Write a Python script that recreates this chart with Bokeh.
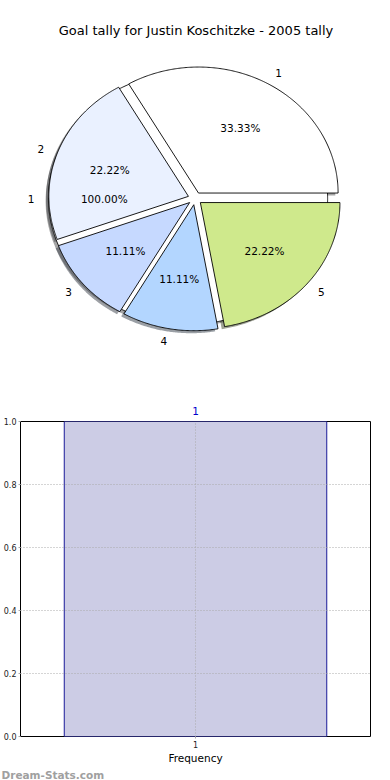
import numpy as np
from bokeh.plotting import figure
from bokeh.models import Range1d, ColumnDataSource, Label, FixedTicker, LinearAxis, Title
from bokeh.layouts import column
from bokeh.embed import file_html
from bokeh.resources import INLINE
from bokeh.core.properties import value

# ---------------- data ----------------
title_text = "Goal tally for Justin Koschitzke - 2005 tally"
slice_labels = ["1", "2", "3", "4", "5"]
slice_values = [3, 2, 1, 1, 2]
slice_colors = ["#ffffff", "#eaf1ff", "#c6d9ff", "#b3d6ff", "#cfe98c"]
total_labels = ["1"]
total_values = [1]
total_colors = ["#ffffff"]

bar_categories = ["1"]
bar_values = [1]
y_ticks = [0.0, 0.2, 0.4, 0.6, 0.8, 1.0]
watermark = "Dream-Stats.com"

FONT = "DejaVu Sans"
EXPLODE = 0.05
W = 374
BL, BR = 19, 4               # left/right borders shared by both figures
H1 = 384
RX, RY = 140.0, 126.0        # pixels per pie unit
CX, CY = 194.0, 198.0        # pie centre (canvas pixels)

pie = figure(width=W, height=H1, output_backend="svg", toolbar_location=None,
             x_range=Range1d(-(CX - BL) / RX, (W - BR - CX) / RX),
             y_range=Range1d(-(H1 - CY) / RY, CY / RY),
             min_border_left=BL, min_border_right=BR, min_border_top=0,
             min_border_bottom=0, outline_line_color=None)
pie.axis.visible = False
pie.grid.visible = False


def pie_geometry(values, labels, colors):
    vals = np.asarray(values, float)
    fr = vals / vals.sum()
    out = dict(xs=[], ys=[], sxs=[], sys=[], color=[], shadow=[],
               lx=[], ly=[], align=[], px=[], py=[], pct=[], label=[])
    t1 = 0.0
    for f, lab, col in zip(fr, labels, colors):
        t2 = t1 + 360.0 * f
        tm = np.radians((t1 + t2) / 2)
        cx, cy = EXPLODE * np.cos(tm), EXPLODE * np.sin(tm)
        th = np.radians(np.linspace(t1, t2, int(abs(t2 - t1)) * 2 + 2))
        if f >= 0.999:
            xs = list(cx + np.cos(th)); ys = list(cy + np.sin(th))
        else:
            xs = [cx] + list(cx + np.cos(th)) + [cx]
            ys = [cy] + list(cy + np.sin(th)) + [cy]
        out["xs"].append(xs); out["ys"].append(ys)
        out["sxs"].append([x - 0.02 for x in xs]); out["sys"].append([y - 0.02 for y in ys])
        out["color"].append(col)
        r, g, b = int(col[1:3], 16), int(col[3:5], 16), int(col[5:7], 16)
        out["shadow"].append("#%02x%02x%02x" % (int(r * 0.3), int(g * 0.3), int(b * 0.3)))
        lxv = cx + 1.1 * np.cos(tm)
        out["lx"].append(lxv); out["ly"].append(cy + 1.1 * np.sin(tm))
        out["align"].append("left" if lxv > 0 else "right")
        out["px"].append(cx + 0.6 * np.cos(tm)); out["py"].append(cy + 0.6 * np.sin(tm))
        out["pct"].append("%.2f%%" % (100 * f))
        out["label"].append(lab)
        t1 = t2
    return out


g_total = pie_geometry(total_values, total_labels, total_colors)
g_main = pie_geometry(slice_values, slice_labels, slice_colors)

for g in (g_total, g_main):
    pie.patches(xs=g["sxs"], ys=g["sys"], fill_color=g["shadow"], fill_alpha=0.5,
                line_color=None)
for g in (g_total, g_main):
    pie.patches(xs=g["xs"], ys=g["ys"], fill_color=g["color"], line_color="black",
                line_width=0.9)
for g in (g_total, g_main):
    src = ColumnDataSource(dict(lx=g["lx"], ly=g["ly"], align=g["align"], label=g["label"],
                                px=g["px"], py=g["py"], pct=g["pct"]))
    pie.text(x="lx", y="ly", text="label", text_align="align", text_baseline="middle",
             text_font=value(FONT), text_font_size="10.5px", text_color="black", source=src)
    pie.text(x="px", y="py", text="pct", text_align="center", text_baseline="middle",
             text_font=value(FONT), text_font_size="10.5px", text_color="black", source=src)

pie.add_layout(Label(x=(195 - CX) / RX, y=(CY - 30) / RY, text=title_text,
                     text_align="center", text_baseline="middle", text_font=FONT,
                     text_font_size="13px", text_color="black"))

# ---------------- bar chart ----------------
H2 = 396
TOP = 421 - H1
xpos = list(range(1, len(bar_categories) + 1))
bar = figure(width=W, height=H2, output_backend="svg", toolbar_location=None,
             x_range=Range1d(0.5, len(bar_categories) + 0.5), y_range=Range1d(0, 1.0),
             min_border_left=BL, min_border_right=BR, min_border_top=TOP,
             min_border_bottom=0, outline_line_color="black", outline_line_width=1)
bsrc = ColumnDataSource(dict(x=xpos, top=bar_values, cat=bar_categories))
bar.vbar(x="x", top="top", width=0.75, source=bsrc, fill_color="#ccccE5",
         line_color="#1a1a99", line_width=1)

bar.xaxis.ticker = FixedTicker(ticks=xpos)
bar.xaxis.major_label_overrides = {x: c for x, c in zip(xpos, bar_categories)}
bar.yaxis.ticker = FixedTicker(ticks=y_ticks)
bar.yaxis.major_label_overrides = {t: "%.1f" % t for t in y_ticks}
bar.xaxis.axis_label = "Frequency"
for ax in (bar.xaxis, bar.yaxis):
    ax.axis_line_color = None
    ax.major_tick_out = 2
    ax.major_tick_in = 0
    ax.major_tick_line_color = "#aaaaaa"
    ax.minor_tick_line_color = None
    ax.major_label_text_font = FONT
    ax.major_label_text_font_size = "8px"
    ax.major_label_text_color = "#222222"
    ax.major_label_standoff = 2
bar.xaxis.major_label_standoff = 2
bar.xaxis.axis_label_text_font = FONT
bar.xaxis.axis_label_text_font_size = "10.5px"
bar.xaxis.axis_label_text_font_style = "normal"
bar.xaxis.axis_label_text_color = "black"
bar.xaxis.axis_label_standoff = 1

# value label of each bar, shown above the frame
top_axis = LinearAxis(ticker=FixedTicker(ticks=xpos),
                      major_label_overrides={x: str(v) for x, v in zip(xpos, bar_values)},
                      axis_line_color=None, major_tick_line_color=None,
                      minor_tick_line_color=None, major_label_standoff=1,
                      major_label_text_font=FONT, major_label_text_font_size="10.5px",
                      major_label_text_color="#0000cc")
bar.add_layout(top_axis, "above")

bar.grid.grid_line_color = "#aaaaaa"
bar.grid.grid_line_dash = "1 2"
bar.grid.grid_line_width = 1
bar.grid.level = "overlay"

bar.add_layout(Title(text=watermark, align="left", offset=-BL, standoff=0,
                     text_font=FONT, text_font_size="10.5px", text_font_style="bold",
                     text_color="#a0a0a0"), "below")

layout = column(pie, bar, spacing=0)
open("out.html", "w").write(file_html(layout, INLINE))
